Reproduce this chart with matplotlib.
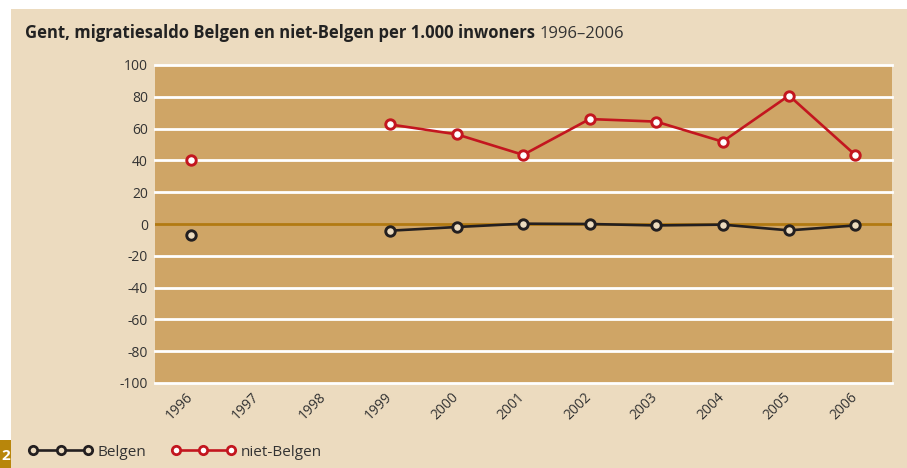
import matplotlib
matplotlib.use("Agg")
import matplotlib.pyplot as plt
import matplotlib.transforms as mtransforms
from matplotlib.patches import Rectangle

# ── Data ──────────────────────────────────────────────────────────────────────
years = [1996, 1997, 1998, 1999, 2000, 2001, 2002, 2003, 2004, 2005, 2006]
# 1997 and 1998 are missing in the source series
belgen = [-6.7, None, None, -4.2, -1.9, 0.2, 0.0, -0.9, -0.4, -4.0, -0.9]
niet_belgen = [40.2, None, None, 62.6, 56.4, 43.5, 66.0, 64.4, 51.8, 80.8, 43.3]
y_ticks = [100, 80, 60, 40, 20, 0, -20, -40, -60, -80, -100]

PAGE_BG = "#ECDBBF"
PLOT_BG = "#CFA566"
ZERO_C = "#B27A12"
RED = "#C3161F"
BLACK = "#231F20"
TXT = "#333333"

plt.rcParams["font.family"] = ["Open Sans", "DejaVu Sans"]

fig = plt.figure(figsize=(9.07, 4.68), dpi=100, facecolor="white")
W, H = 907, 468

# beige page panel, white strip on top and left
fig.patches.append(Rectangle((11 / W, 0), 1, 1 - 9 / H, transform=fig.transFigure,
                             facecolor=PAGE_BG, edgecolor="none", zorder=-5))
# page number tab
fig.patches.append(Rectangle((0, 0), 11 / W, 28 / H, transform=fig.transFigure,
                             facecolor="#B8860B", edgecolor="none", zorder=-4))
fig.text(10 / W, 5 / H, "2", color="white", fontsize=11, fontweight="bold",
         ha="right", va="bottom", zorder=2)

ax = fig.add_axes([155 / W, 1 - 383 / H, (892 - 155) / W, (383 - 65) / H])
ax.set_zorder(1)
ax.set_facecolor(PLOT_BG)
ax.set_xlim(1995.46, 2006.55)
ax.set_ylim(-100, 100)
for s in ax.spines.values():
    s.set_visible(False)

for v in y_ticks:
    if v == 0:
        ax.axhline(v, color=ZERO_C, lw=2.0, zorder=2)
    else:
        ax.axhline(v, color="white", lw=2.0, zorder=1, clip_on=False)


def series(vals):
    xs = [y for y, v in zip(years, vals) if v is not None]
    vs = [v for v in vals if v is not None]
    return xs, vs


# the 1996 point stands alone (gap for 1997-1998)
for vals, col, fill in [(belgen, BLACK, PAGE_BG), (niet_belgen, RED, "white")]:
    xs, vs = series(vals)
    ax.plot(xs[1:], vs[1:], color=col, lw=1.9, marker="o", ms=6.8, mew=2.1,
            mfc=fill, mec=col, zorder=4)
    ax.plot(xs[:1], vs[:1], color=col, lw=0, marker="o", ms=6.8, mew=2.1,
            mfc=fill, mec=col, zorder=4)

ax.set_yticks(y_ticks)
ax.set_yticklabels([str(v) for v in y_ticks], fontsize=10, color=TXT)
ax.set_xticks(years)
ax.set_xticklabels([str(y) for y in years], fontsize=10, color=TXT,
                   rotation=45, ha="right", va="top")
ax.tick_params(length=0)
ax.tick_params(axis="x", pad=5)
ax.tick_params(axis="y", pad=5)
shift = mtransforms.ScaledTranslation(5 / 100, 0, fig.dpi_scale_trans)
for lbl in ax.get_xticklabels():
    lbl.set_transform(lbl.get_transform() + shift)

# title: bold part followed by the period in regular weight
t1 = fig.text(25 / W, 1 - 38 / H, "Gent, migratiesaldo Belgen en niet-Belgen per 1.000 inwoners",
              fontsize=12, fontweight="bold", color="#222222", ha="left", va="baseline")
fig.canvas.draw()
bb = t1.get_window_extent()
fig.text(bb.x1 / W + 5 / W, 1 - 38 / H, "1996–2006", fontsize=12, color="#333333",
         ha="left", va="baseline")

# legend
handles = [
    plt.Line2D([], [], color=BLACK, lw=1.9, marker="o", ms=6, mew=2.0, mfc=PAGE_BG, mec=BLACK),
    plt.Line2D([], [], color=RED, lw=1.9, marker="o", ms=6, mew=2.0, mfc="white", mec=RED),
]
fig.legend(handles, ["Belgen", "niet-Belgen"], loc="center left",
           bbox_to_anchor=(15 / W, 1 - 452 / H), ncol=2, frameon=False,
           numpoints=3, handlelength=4.2, handletextpad=0.33, columnspacing=1.6,
           fontsize=11, labelcolor=TXT)

fig.savefig("out.png", dpi=100, facecolor="white")
